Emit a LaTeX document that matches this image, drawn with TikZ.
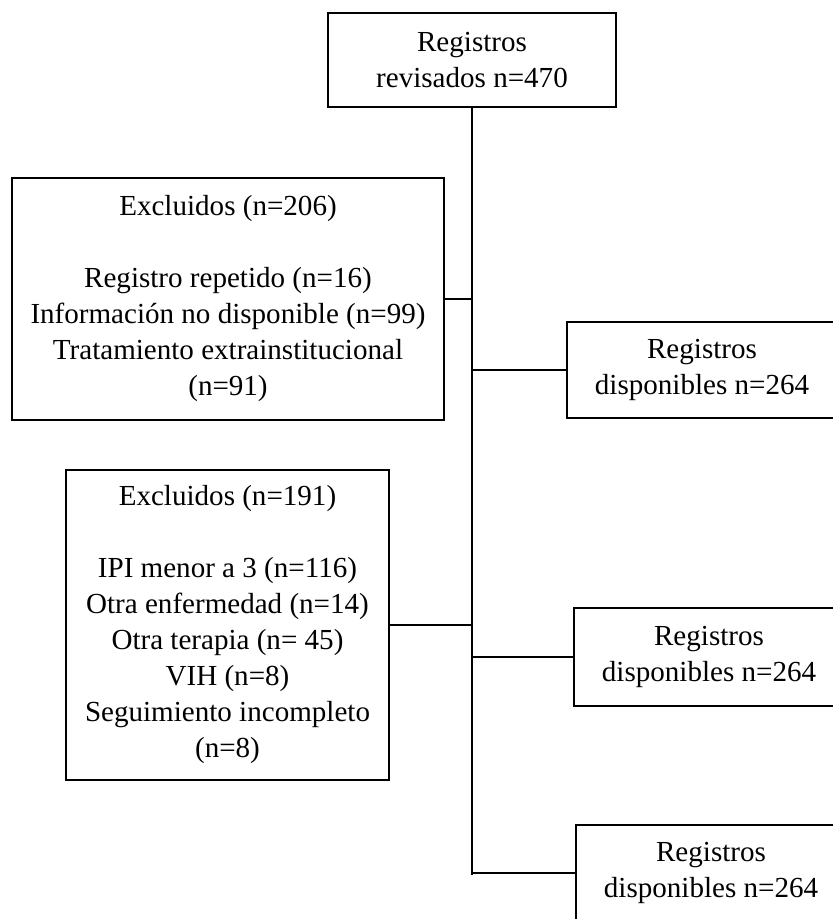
\documentclass[tikz,border=0pt]{standalone}
\usepackage{fontspec}
\setmainfont{Liberation Serif}
\usepackage{tikz}
\usetikzlibrary{positioning}
\tikzstyle{caja} = [rectangle, draw=black, line width=2.2pt, inner sep=0pt, align=center, text centered, font=\fontsize{21.8}{27}\selectfont]
\tikzstyle{registro} = [caja, minimum width=202.5pt, minimum height=72pt]
\tikzstyle{linea} = [line width=2.2pt, black]

\begin{document}
\begin{tikzpicture}[x=0.75pt, y=-0.75pt]
\useasboundingbox (0,0) rectangle (832,919);
% Registros revisados
\node[caja, minimum width=216pt, minimum height=70.5pt] (revisados) at (472,60) {Registros\\revisados n=470};

% Excluidos
\node[caja, minimum width=324pt, minimum height=181.5pt] (excl1) at (228,299) {Excluidos (n=206)\\[27pt]Registro repetido (n=16)\\Información no disponible (n=99)\\Tratamiento extrainstitucional\\(n=91)};
\node[caja, minimum width=242.25pt, minimum height=232.5pt] (excl2) at (227.5,625) {Excluidos (n=191)\\[27pt]IPI menor a 3 (n=116)\\Otra enfermedad (n=14)\\Otra terapia (n= 45)\\VIH (n=8)\\Seguimiento incompleto\\(n=8)};

% Registros disponibles
\node[registro] (disp1) at (702,370) {Registros\\disponibles n=264};
\node[registro, minimum height=73.5pt] (disp2) at (709,657) {Registros\\disponibles n=264};
\node[registro] (disp3) at (711,873) {Registros\\disponibles n=264};

% Eje vertical
\coordinate (eje) at (472,875);
\draw[linea] (revisados) -- (eje);

% Ramas
\draw[linea] (excl1.east) -- (excl1.east -| eje);
\draw[linea] (excl2.east) -- (excl2.east -| eje);
\draw[linea] (eje |- disp1.west) -- (disp1.west);
\draw[linea] (eje |- disp2.west) -- (disp2.west);
\draw[linea] (eje |- disp3.west) -- (disp3.west);
\end{tikzpicture}
\end{document}
